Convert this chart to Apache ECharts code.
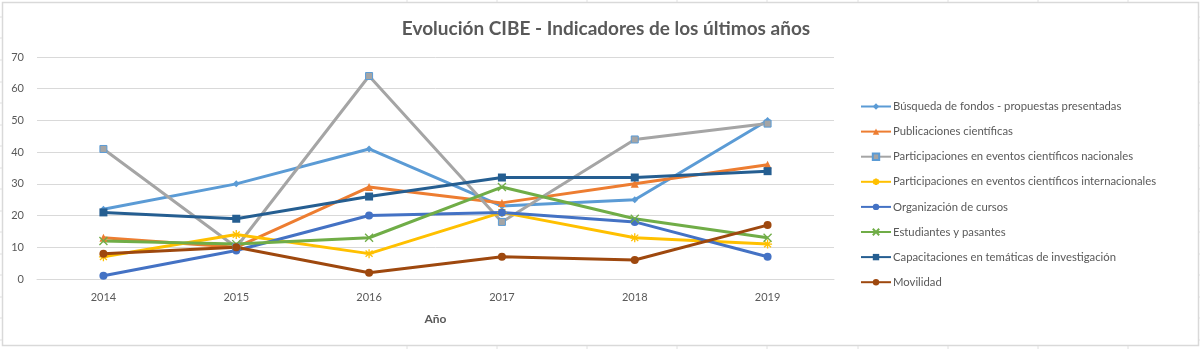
<!DOCTYPE html>
<html>
<head>
<meta charset="utf-8">
<script src="https://cdn.jsdelivr.net/npm/echarts@6/dist/echarts.min.js"></script>
<style>
  html, body { margin: 0; padding: 0; background: #ffffff; }
  #chart { width: 1200px; height: 349px; }
</style>
</head>
<body>
<div id="chart"></div>
<script>
// Years on the category axis
const years = ['2014', '2015', '2016', '2017', '2018', '2019'];

// Indicator series
const busquedaFondos      = [22, 30, 41, 23, 25, 50];
const publicaciones       = [13, 10, 29, 24, 30, 36];
const eventosNacionales   = [41, 10, 64, 18, 44, 49];
const eventosInternac     = [7, 14, 8, 21, 13, 11];
const organizacionCursos  = [1, 9, 20, 21, 18, 7];
const estudiantes         = [12, 11, 13, 29, 19, 13];
const capacitaciones      = [21, 19, 26, 32, 32, 34];
const movilidad           = [8, 10, 2, 7, 6, 17];

const seriesNames = [
  'Búsqueda de fondos - propuestas presentadas',
  'Publicaciones científicas',
  'Participaciones en eventos científicos nacionales',
  'Participaciones en eventos científicos internacionales',
  'Organización de cursos',
  'Estudiantes y pasantes',
  'Capacitaciones en temáticas de investigación',
  'Movilidad'
];

const FONT = 'Lato, "Open Sans", sans-serif';
const TEXT = '#595959';

const asterisk = 'path://M0,-5L0,5M-4.5,0L4.5,0M-3.5,-3.5L3.5,3.5M-3.5,3.5L3.5,-3.5';
const cross = 'path://M-4,-4L4,4M-4,4L4,-4';

function lineSeries(name, data, color, symbol, size, extra) {
  return Object.assign({
    name: name,
    type: 'line',
    data: data,
    symbol: symbol,
    symbolSize: size,
    showSymbol: true,
    lineStyle: { color: color, width: 3 },
    itemStyle: { color: color, borderColor: color, borderWidth: 0 },
    emphasis: { disabled: true },
    animation: false
  }, extra || {});
}

const series = [
  lineSeries(seriesNames[0], busquedaFondos, '#5B9BD5', 'diamond', 7),
  lineSeries(seriesNames[1], publicaciones, '#ED7D31', 'triangle', 8),
  lineSeries(seriesNames[2], eventosNacionales, '#A5A5A5', 'rect', 7,
    { itemStyle: { color: '#A5A5A5', borderColor: '#5B9BD5', borderWidth: 1 } }),
  lineSeries(seriesNames[3], eventosInternac, '#FFC000', asterisk, 9,
    { itemStyle: { color: '#FFC000', borderColor: '#FFC000', borderWidth: 1.3 } }),
  lineSeries(seriesNames[4], organizacionCursos, '#4472C4', 'circle', 8),
  lineSeries(seriesNames[5], estudiantes, '#70AD47', cross, 8,
    { itemStyle: { color: '#70AD47', borderColor: '#70AD47', borderWidth: 1.3 } }),
  lineSeries(seriesNames[6], capacitaciones, '#255E91', 'rect', 8),
  lineSeries(seriesNames[7], movilidad, '#9E480E', 'circle', 8)
];

// Sheet-style frame around the chart object
const frame = [];
frame.push({
  type: 'rect',
  shape: { x: 2.5, y: 2.5, width: 1196, height: 343 },
  style: { fill: 'none', stroke: '#d9d9d9', lineWidth: 1.5 },
  silent: true
});
[407, 497, 587, 677, 767, 858, 948, 1038, 1128].forEach(function (x) {
  frame.push({ type: 'line', shape: { x1: x, y1: 0, x2: x, y2: 2 }, style: { stroke: '#e0e0e0', lineWidth: 1 }, silent: true });
  frame.push({ type: 'line', shape: { x1: x, y1: 346, x2: x, y2: 349 }, style: { stroke: '#e0e0e0', lineWidth: 1 }, silent: true });
});
[17, 38, 60, 82, 103, 125, 146, 168, 189, 211, 232, 254, 275, 297, 318, 340].forEach(function (y) {
  frame.push({ type: 'line', shape: { x1: 0, y1: y, x2: 2, y2: y }, style: { stroke: '#e0e0e0', lineWidth: 1 }, silent: true });
  frame.push({ type: 'line', shape: { x1: 1199, y1: y, x2: 1200, y2: y }, style: { stroke: '#e0e0e0', lineWidth: 1 }, silent: true });
});

const chart = echarts.init(document.getElementById('chart'), null, { renderer: 'canvas' });
chart.setOption({
  backgroundColor: '#ffffff',
  animation: false,
  textStyle: { fontFamily: FONT },
  title: {
    text: 'Evolución CIBE - Indicadores de los últimos años',
    left: 601,
    textAlign: 'center',
    top: 14,
    textStyle: { fontFamily: FONT, fontSize: 19, fontWeight: 'bold', color: TEXT }
  },
  grid: { left: 37, right: 366, top: 57, bottom: 70, containLabel: false },
  legend: {
    orient: 'vertical',
    left: 855,
    top: 96,
    itemWidth: 30,
    itemHeight: 8,
    itemGap: 14.1,
    textStyle: { fontFamily: FONT, fontSize: 11.3, color: TEXT, padding: [0, 0, 0, -3] },
    data: seriesNames
  },
  xAxis: {
    type: 'category',
    data: years,
    boundaryGap: true,
    name: 'Año',
    nameLocation: 'middle',
    nameGap: 34,
    nameTextStyle: { fontFamily: FONT, fontSize: 12, fontWeight: 'bold', color: TEXT },
    axisLine: { show: true, lineStyle: { color: '#d9d9d9', width: 1 } },
    axisTick: { show: false },
    axisLabel: { color: TEXT, fontSize: 11, fontFamily: FONT, margin: 13 }
  },
  yAxis: {
    type: 'value',
    min: 0,
    max: 70,
    interval: 10,
    axisLine: { show: false },
    axisTick: { show: false },
    axisLabel: { color: TEXT, fontSize: 11, fontFamily: FONT, margin: 13 },
    splitLine: { lineStyle: { color: '#d9d9d9', width: 1 } }
  },
  graphic: { elements: frame },
  series: series
});
</script>
</body>
</html>
